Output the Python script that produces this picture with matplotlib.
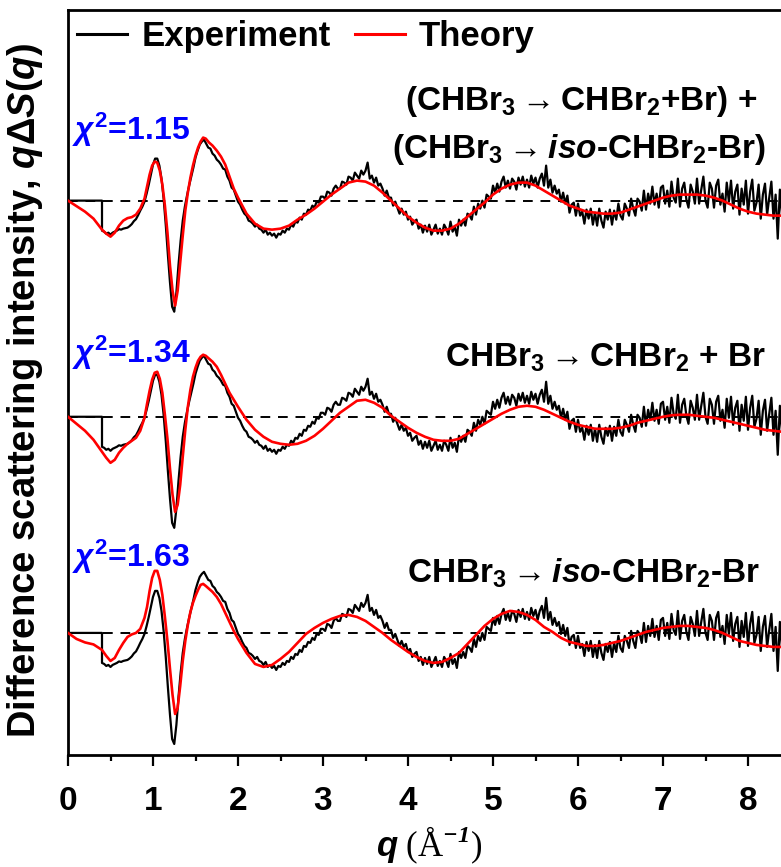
import numpy as np
import matplotlib
matplotlib.use("Agg")
import matplotlib.pyplot as plt
from matplotlib.ticker import MultipleLocator

plt.rcParams["font.family"] = ["Liberation Sans", "DejaVu Sans"]
plt.rcParams["font.weight"] = "bold"
plt.rcParams["mathtext.fontset"] = "custom"
plt.rcParams["mathtext.rm"] = "Liberation Sans:bold"
plt.rcParams["mathtext.bf"] = "Liberation Sans:bold"
plt.rcParams["mathtext.it"] = "Liberation Sans:italic:bold"
plt.rcParams["mathtext.cal"] = "Liberation Serif:italic:bold"

# ---------------------------------------------------------------
# data (arbitrary units)
# ---------------------------------------------------------------
theory_q = [0.0, 0.1, 0.2, 0.3, 0.4,
            0.45, 0.5, 0.55, 0.6, 0.65, 0.7, 0.75, 0.8, 0.85, 0.9,
            0.93, 0.96, 0.99, 1.02, 1.05, 1.08, 1.11, 1.14, 1.17, 1.2, 1.23, 1.26,
            1.29, 1.32, 1.35, 1.38, 1.41, 1.44, 1.47, 1.5, 1.53, 1.56, 1.59,
            1.62, 1.66, 1.7, 1.75, 1.8, 1.85, 1.9, 1.95, 2.0,
            2.1, 2.2, 2.3, 2.4, 2.5, 2.6, 2.7, 2.8, 2.9,
            3.0, 3.1, 3.2, 3.3, 3.4, 3.5, 3.6, 3.7, 3.8, 3.9,
            4.0, 4.1, 4.2, 4.3, 4.4, 4.5, 4.6, 4.7, 4.8, 4.9,
            5.0, 5.1, 5.2, 5.3, 5.4, 5.5, 5.6, 5.7, 5.8, 5.9,
            6.0, 6.1, 6.2, 6.3, 6.4, 6.5, 6.6, 6.7, 6.8, 6.9,
            7.0, 7.1, 7.2, 7.3, 7.4, 7.5, 7.6, 7.7, 7.8, 7.9,
            8.0, 8.1, 8.2, 8.3, 8.4, 8.5]

# (CHBr3 -> CHBr2+Br) + (CHBr3 -> iso-CHBr2-Br)
theory_mixed = [0.0, -0.55, -1.1, -1.8, -2.9,
                -3.3, -3.6, -3.2, -2.5, -2.0, -1.75, -1.65, -1.4, -0.8, 0.2,
                1.4, 2.6, 3.5, 3.9, 3.8, 3.0, 1.6, -0.5, -3.2, -6.5, -9.0, -10.5,
                -9.0, -6.2, -3.5, -1.0, 0.8, 2.3, 3.5, 4.5, 5.3, 5.9, 6.3,
                6.2, 5.8, 5.5, 5.0, 4.4, 3.6, 2.4, 1.2, 0.3,
                -1.3, -2.3, -2.8, -2.9, -2.8, -2.5, -1.9, -1.4, -0.8,
                -0.1, 0.6, 1.2, 1.8, 2.0, 1.9, 1.5, 0.8, 0.0, -0.8,
                -1.6, -2.2, -2.7, -3.0, -3.0, -2.8, -2.3, -1.6, -0.9, -0.2,
                0.6, 1.2, 1.6, 1.8, 1.8, 1.5, 1.0, 0.5, 0.0, -0.5,
                -0.8, -1.1, -1.2, -1.3, -1.3, -1.2, -0.9, -0.6, -0.3, 0.0,
                0.3, 0.5, 0.6, 0.6, 0.6, 0.5, 0.3, 0.0, -0.4, -0.8,
                -1.1, -1.3, -1.4, -1.5, -1.5, -1.5]

# CHBr3 -> CHBr2 + Br
theory_dissoc = [0.0, -0.7, -1.4, -2.3, -3.5,
                 -4.1, -4.6, -4.3, -3.6, -3.1, -2.7, -2.4, -2.1, -1.4, -0.1,
                 1.3, 2.6, 3.7, 4.4, 4.5, 3.8, 2.4, 0.2, -2.2, -5.2, -7.8, -9.5,
                 -8.8, -6.8, -4.0, -1.3, 1.0, 2.7, 4.0, 4.9, 5.6, 6.0, 6.2,
                 6.1, 5.8, 5.5, 5.0, 4.2, 3.3, 2.4, 1.7, 1.0,
                 -0.3, -1.3, -2.0, -2.5, -2.7, -2.8, -2.7, -2.4, -1.9,
                 -1.2, -0.4, 0.4, 1.0, 1.6, 1.7, 1.4, 0.9, 0.1, -0.5,
                 -1.1, -1.6, -2.0, -2.3, -2.4, -2.4, -2.2, -1.7, -1.2, -0.7,
                 -0.2, 0.3, 0.7, 1.0, 1.1, 1.0, 0.7, 0.3, -0.1, -0.5,
                 -0.8, -1.0, -1.2, -1.2, -1.2, -1.1, -0.9, -0.6, -0.4, -0.2,
                 0.0, 0.15, 0.2, 0.2, 0.1, 0.0, -0.1, -0.3, -0.5, -0.7,
                 -0.9, -1.1, -1.3, -1.4, -1.5, -1.5]

# CHBr3 -> iso-CHBr2-Br
theory_iso = [0.0, -0.6, -0.95, -1.15, -1.7,
              -2.3, -2.8, -2.5, -1.7, -1.0, -0.4, -0.15, 0.0, 0.4, 1.5,
              2.6, 4.2, 5.5, 6.2, 6.2, 5.3, 3.8, 1.6, -0.8, -3.6, -6.2, -8.1,
              -7.5, -5.3, -2.8, -0.8, 0.8, 2.1, 3.0, 3.7, 4.3, 4.8, 4.9,
              4.7, 4.4, 4.1, 3.6, 2.9, 2.0, 1.1, 0.2, -0.6,
              -2.0, -3.1, -3.4, -3.2, -2.6, -1.9, -1.0, -0.1, 0.5,
              1.0, 1.4, 1.7, 1.8, 1.6, 1.2, 0.6, 0.0, -0.7, -1.3,
              -1.9, -2.4, -2.8, -3.0, -2.9, -2.5, -2.0, -1.1, -0.2, 0.7,
              1.4, 1.9, 2.2, 2.1, 1.8, 1.3, 0.6, 0.1, -0.5, -0.9,
              -1.1, -1.3, -1.3, -1.2, -1.0, -0.8, -0.5, -0.2, 0.1, 0.3,
              0.5, 0.6, 0.7, 0.7, 0.6, 0.5, 0.3, 0.0, -0.4, -0.8,
              -1.0, -1.2, -1.3, -1.4, -1.4, -1.4]

# experiment: flat (no data) below q = 0.40, then sampled every 0.025 A^-1
EXP_Q0, EXP_DQ = 0.40, 0.025
exp_signal = [
    -3.0, -3.1, -3.3, -3.2, -3.4, -3.2, -3.1, -3.0,        # 0.40
    -2.85, -2.9, -2.8, -2.75, -2.7, -2.55, -2.35, -2.05,   # 0.60
    -1.85, -1.45, -1.0, -0.6, -0.1, 0.7, 1.6, 2.6,         # 0.80
    3.6, 4.2, 4.2, 3.5, 2.2, 0.2, -2.4, -5.4,              # 1.00
    -8.2, -10.6, -11.1, -9.2, -6.4, -4.0, -2.0, -0.6,      # 1.20
    0.5, 1.5, 2.4, 3.3, 4.3, 5.0, 5.6, 5.9,                # 1.40
    6.1, 5.7, 5.3, 5.2, 4.7, 4.5, 4.1, 3.9,                # 1.60
    3.6, 3.2, 3.1, 2.4, 2.0, 1.3, 1.1, 0.5,                # 1.80
    -0.1, -0.4, -0.9, -1.3, -1.5, -2.0, -2.1, -2.3,        # 2.00
    -2.6, -2.4, -2.8, -2.9, -3.2, -2.9, -3.4, -3.2,        # 2.20
    -3.5, -3.3, -3.7, -3.3, -3.4, -3.0, -3.2, -2.8,        # 2.40
    -2.9, -2.4, -2.6, -2.1, -2.2, -1.7, -1.9, -1.3,        # 2.60
    -1.4, -0.9, -1.0, -0.5, -0.7, -0.1, -0.2, 0.4,         # 2.80
    0.4, 0.2, 0.9, 0.8, 0.5, 1.2, 1.5, 1.2,                # 3.00
    1.2, 1.9, 1.8, 1.6, 2.4, 2.3, 2.0, 2.8,                # 3.20
    2.5, 2.2, 3.0, 2.6, 3.0, 3.8, 2.2, 2.5,                # 3.40
    1.8, 2.3, 1.5, 1.7, 1.2, 0.5, 1.0, 0.3,                # 3.60
    0.3, -0.5, -0.1, -0.7, -1.3, -0.8, -1.4, -1.1,         # 3.80
    -1.9, -1.6, -2.4, -2.1, -1.9, -2.8, -2.4, -3.2,        # 4.00
    -2.5, -3.1, -2.4, -3.4, -2.9, -2.4, -3.3, -2.8,        # 4.20
    -3.4, -2.4, -2.8, -3.4, -2.1, -3.1, -2.6, -3.5,        # 4.40
    -1.9, -2.5, -1.9, -2.5, -1.3, -1.5, -1.9, -0.6,        # 4.60
    -1.4, -0.3, -0.8, 0.0, -0.7, 0.6, 0.4, 0.2,            # 4.80
    1.5, 0.8, 1.7, 0.9, 1.9, 2.4, 1.3, 2.0,                # 5.00
    1.2, 2.2, 1.9, 1.1, 2.3, 1.6, 2.4, 1.4,                # 5.20
    2.1, 1.3, 2.5, 1.7, 2.3, 1.3, 2.2, 2.7,                # 5.40
    1.5, 3.5, 1.3, 2.1, 0.8, 1.5, 0.7, 1.1,                # 5.60
    -0.1, 0.8, -0.3, 0.5, -1.2, -0.4, -0.2, -1.5,          # 5.80
    -0.3, -1.5, -1.1, -2.3, -0.9, -1.8, -0.8, -2.4,        # 6.00
    -1.2, -2.5, -0.8, -2.0, -2.7, -1.1, -1.9, -0.9,        # 6.20
    -2.4, -1.0, -1.9, -0.3, -1.5, -1.9, -0.3, -0.8,        # 6.40
    -1.5, 0.2, -0.8, -1.5, 0.2, -0.1, -1.0, 1.0,           # 6.60
    -0.9, 0.7, -0.3, 1.4, -0.4, 0.7, -0.7, 1.3,            # 6.80
    1.5, -0.3, 1.0, -0.6, 1.9, 0.3, -0.2, 2.2,             # 7.00
    -0.6, 1.2, 1.8, 0.1, -0.7, 1.6, 0.9, -0.3,             # 7.20
    2.2, -0.3, 1.1, 2.4, 0.0, -0.7, 1.8, 1.2,              # 7.40
    -0.7, 1.5, 2.1, -0.4, 0.7, -1.1, 1.8, -0.1,            # 7.60
    2.0, -0.8, 0.9, 1.6, -1.4, 1.2, -0.4, 2.0,             # 7.80
    -1.3, 0.9, 2.1, -1.0, -0.2, 1.6, -1.8, 0.6,            # 8.00
    1.7, -1.4, 0.3, 1.9, -1.8, 0.6, -3.8, 1.1,             # 8.20
    -1.5, 1.6, -1.3,                                       # 8.40
]

panels = [theory_mixed, theory_dissoc, theory_iso]
offsets = [0.0, -21.6, -43.2]
chi2 = ["1.15", "1.34", "1.63"]
captions = [
    [r"(CHBr$_3 \rightarrow$CHBr$_2$+Br) +", r"(CHBr$_3 \rightarrow\mathit{iso}$-CHBr$_2$-Br)"],
    [r"CHBr$_3 \rightarrow$CHBr$_2$ + Br"],
    [r"CHBr$_3 \rightarrow\mathit{iso}$-CHBr$_2$-Br"],
]

# ---------------------------------------------------------------
# figure
# ---------------------------------------------------------------
fig = plt.figure(figsize=(7.81, 8.67), dpi=100)
ax = fig.add_axes([68 / 781, 112 / 867, 722.5 / 781, 745 / 867])

q_exp = np.r_[0.0, EXP_Q0, EXP_Q0 + EXP_DQ * np.arange(len(exp_signal))]
s_exp = np.r_[0.0, 0.0, exp_signal]
q_th = np.array(theory_q)

for i, (th, off) in enumerate(zip(panels, offsets)):
    ax.axhline(off, color="black", lw=1.4, ls=(0, (5, 4)), zorder=1)
    ax.plot(q_exp, s_exp + off, color="black", lw=1.6, zorder=2,
            label="Experiment" if i == 0 else None)
    ax.plot(q_th, np.array(th) + off, color="#ff0000", lw=1.9, zorder=3,
            label="Theory" if i == 0 else None)

ax.set_xlim(0, 8.5)
ax.set_ylim(-55.4, 19.05)

for sp in ax.spines.values():
    sp.set_linewidth(2)

ax.xaxis.set_major_locator(MultipleLocator(1))
ax.xaxis.set_minor_locator(MultipleLocator(0.5))
ax.tick_params(axis="x", which="major", direction="out", length=8, width=1.6,
               labelsize=24, pad=14)
ax.tick_params(axis="x", which="minor", direction="out", length=4.5, width=1.6)
ax.set_yticks([])

# chi^2 values
chi_y = [6.1, -16.2, -36.6]
for c, y in zip(chi2, chi_y):
    ax.text(0.05, y, r"$\chi^2$=" + c, color="#0000ff", fontsize=23,
            ha="left", va="baseline")

# model captions
cap_pos = [[(8.11, 9.1), (8.21, 4.3)], [(8.21, -16.6)], [(8.14, -38.2)]]
for caps, pos in zip(captions, cap_pos):
    for t, (x, y) in zip(caps, pos):
        ax.text(x, y, t, fontsize=24, ha="right", va="baseline")

leg = ax.legend(loc="upper left", bbox_to_anchor=(0.0125, 0.986), ncol=2,
                frameon=False, fontsize=25, handlelength=1.45,
                handletextpad=0.4, columnspacing=0.7, borderpad=0,
                borderaxespad=0)
for line in leg.get_lines():
    line.set_linewidth(2.2)

fig.text(429 / 781, 1 - 845 / 867, r"$q$ (Å$^{\mathcal{-1}}$)",
         family="Liberation Serif", fontweight="normal", fontsize=25,
         ha="center", va="center")
fig.text(25 / 781, 1 - 391 / 867,
         r"Difference scattering intensity, $q\Delta S(q)$",
         fontsize=27.5, rotation=90, ha="center", va="center")

fig.savefig("out.png", dpi=100)
